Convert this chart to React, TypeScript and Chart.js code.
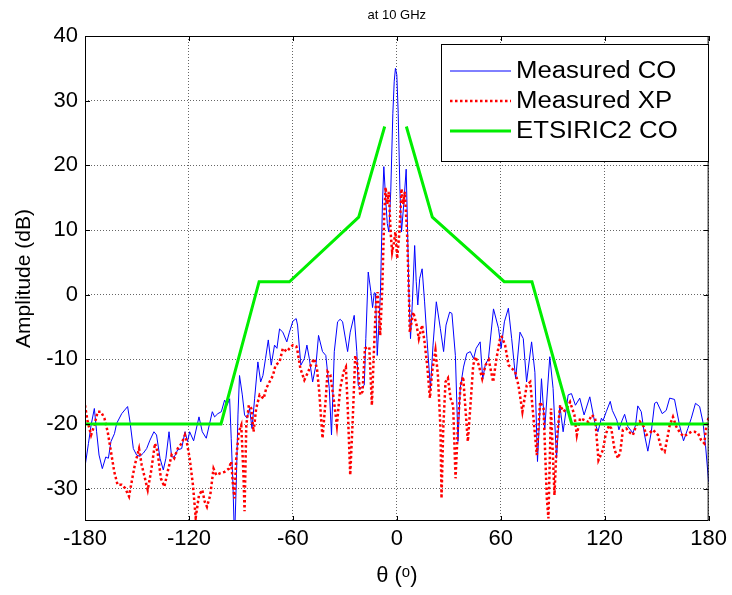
import { useEffect, useRef } from 'react';
import { Chart, registerables } from 'chart.js';
Chart.register(...registerables);

const seriesNames = ['Measured CO', 'Measured XP', 'ETSIRIC2 CO'];
const titleText = 'at 10 GHz';
const xTitle = 'θ (ᵒ)';
const yTitle = 'Amplitude (dB)';
const xTicks = [-180, -120, -60, 0, 60, 120, 180];
const yTicks = [-30, -20, -10, 0, 10, 20, 30, 40];

const coDeg = [-180, -178, -176.5, -174.6, -173.3, -171.9, -170, -168, -166.5, -165, -163, -161.7, -158.8, -155.4, -154, -152.1, -150.2, -148.3, -146.3, -144.4, -142.5, -140.2, -138.7, -136.7, -134.8, -133.3, -131.5, -130, -128.5, -126.5, -124.2, -122.3, -120.8, -119.6, -117.3, -114.2, -112.3, -110, -106.5, -105.2, -103.3, -101.3, -99.4, -98, -96.5, -95.6, -94.6, -93.7, -92.7, -91.7, -90.8, -89.2, -87.9, -86.5, -85, -83.6, -82.1, -80.2, -78.6, -77.3, -75.8, -74.2, -72.5, -70.6, -69.2, -67.7, -65.8, -63.5, -62, -60, -58.1, -57.3, -55.4, -53.4, -51.9, -50.5, -48.6, -46.7, -45.2, -42.9, -41, -39, -37.7, -36.1, -34.2, -32.7, -31.3, -28.4, -26.9, -24.6, -23.1, -22.3, -20.8, -18.8, -17.9, -16.5, -15, -14, -13, -12.3, -11.3, -10, -9.4, -8.3, -7.5, -6.5, -5.5, -4.6, -3.5, -2.3, -1.5, -0.8, 0, 0.8, 1.8, 2.7, 4, 5.4, 6.2, 6.9, 7.9, 9, 10.3, 11.2, 12.1, 13.2, 14.6, 16, 17.4, 19.4, 20.9, 22.8, 25.1, 27, 28.4, 30.5, 31.8, 33.8, 35.3, 36.6, 38.5, 40.4, 42.4, 44.3, 45.8, 48.1, 49.6, 51, 52.9, 55.8, 58.7, 60.2, 62.1, 64.4, 66.3, 68.6, 71.1, 73, 74.9, 77.8, 79.7, 81.2, 83.5, 85.4, 88.3, 90.2, 92.2, 94.1, 96, 98.9, 100.8, 103.1, 105.6, 108.1, 111.4, 114.2, 116.1, 118.1, 119, 120.9, 123.2, 124.4, 127, 128.2, 130.1, 131.5, 133.4, 136.3, 137.8, 139.1, 141.1, 143, 144.9, 146.9, 148.8, 150.1, 153.2, 155.5, 157.5, 160.3, 163.2, 165.5, 168, 170, 172.4, 174.8, 176.7, 178.2, 180];
const coDb = [-26.6, -23, -20.2, -17.6, -21.2, -24.8, -26.9, -25.1, -25.3, -22.7, -21.5, -19.9, -18.4, -17.3, -19.7, -23.8, -24.8, -25, -24.5, -23.8, -22.5, -21.2, -21.7, -25.3, -27.1, -25.3, -21.2, -25.1, -25.1, -24, -23.8, -21.2, -22.7, -21.2, -22.6, -18.9, -21.2, -22.2, -18.1, -18.9, -18.4, -18.1, -16.3, -17.1, -16.1, -22.2, -29.4, -38, -29.4, -18.6, -12.5, -15.5, -18.6, -19.1, -17.6, -20.7, -16.1, -10.4, -13.5, -12.5, -9.9, -7, -10.9, -7.8, -8.3, -5.3, -5.8, -7.3, -5.8, -4.1, -3.7, -4.7, -10.9, -9.9, -7.8, -9.9, -13.5, -10.9, -6.3, -8.8, -9.4, -14.5, -21.7, -8.8, -4.2, -3.8, -4.2, -8.8, -5.8, -3.2, -8.8, -14, -14.5, -14, -6.8, 3.5, 0.5, -2, 0.3, 0.2, -9.4, -3, 0.9, 14, 19.8, 15, 11, 9.7, 16, 28, 33, 35, 34, 28, 16, 9.7, 14, 19.4, 10, 1, -6.8, -1, 7.6, 2, -1.6, 2.5, 4, -1, -6.8, -14.5, -7.8, -1.1, -5.2, -8.8, -4.7, -2.7, -2.9, -9.4, -22.7, -14.5, -11.2, -9.1, -8.8, -9.9, -8.3, -7.3, -13, -10.9, -9.9, -2.2, -5.2, -8.3, -4.2, -2.1, -6.8, -13, -5.8, -6.8, -13.5, -7.3, -12, -25.8, -13, -20.7, -9.6, -14.5, -25.3, -17.1, -21.2, -15.5, -15.3, -17.1, -16, -18.6, -15.8, -19.7, -21.2, -19.1, -19.5, -18.1, -16.5, -17.9, -19.4, -20.9, -19.4, -18.5, -20.4, -21.4, -20.2, -17.2, -18.1, -21.7, -24.2, -21.2, -16.8, -16.6, -18.4, -17.9, -16, -16.2, -20.2, -22.6, -20.7, -19.1, -16.8, -17.3, -19.7, -23.3, -29];

const xpDeg = [-180, -178.5, -176.5, -174.6, -172.7, -170.8, -168.8, -166.9, -165, -163.1, -161.2, -158.8, -156.9, -154.6, -152.7, -151.2, -148.8, -147.3, -145.4, -143.8, -141.9, -139.6, -138.1, -136.2, -134.2, -132.3, -130, -128.5, -126.5, -124.2, -122.3, -121.3, -119.6, -117.7, -116.1, -114.2, -112.3, -110.9, -109.6, -107.7, -105.8, -104.2, -101.9, -99.4, -96.9, -95.6, -94.6, -93.7, -92.7, -91.2, -89.8, -88.5, -87.9, -86.9, -85.4, -84, -82.7, -81.2, -79.2, -76.9, -75.4, -73.5, -71.5, -70, -67.7, -65.8, -63.5, -61.9, -60, -58, -57.3, -55.7, -53.4, -51.1, -49.2, -47.7, -46.1, -44.8, -42.9, -41, -40, -38.4, -36.5, -34.6, -32.7, -30.7, -29.4, -28.4, -26.9, -25.5, -24, -22.7, -21.1, -19.8, -18.4, -15.9, -14.4, -13.4, -12.1, -11.1, -9.6, -8.4, -7.3, -6.5, -5.5, -4.6, -3.6, -2.7, -1.7, -0.8, 0.2, 1.5, 2.7, 3.7, 4.6, 5.9, 6.9, 7.5, 9.5, 11.4, 12.7, 14.6, 16, 17.5, 19.1, 20.4, 22.3, 23.7, 25.2, 25.8, 26.8, 28.1, 29.5, 31, 32.5, 33.9, 35.4, 36.8, 38.3, 39.6, 41, 42.5, 44.1, 45.4, 47.3, 49.3, 51.2, 53.1, 55.6, 57.5, 59.8, 60.6, 62.5, 64.5, 66.4, 68.3, 70.2, 72.5, 75, 77, 78.9, 80.8, 82.7, 84.7, 86.6, 87.5, 89, 91, 92.4, 94.3, 96.2, 98.1, 100, 102.5, 103.9, 105.8, 108.3, 110.6, 112.5, 114.5, 116.4, 119, 120.5, 122.5, 123.8, 125.7, 127.7, 129, 130.5, 132.5, 134, 136.3, 138.2, 140.2, 142.5, 144, 145.9, 147.8, 150.7, 152.7, 154.6, 156.5, 157.5, 159.4, 161.3, 163.6, 165.5, 167.1, 170, 171.9, 173.8, 175.7, 177.5, 178.6, 180];
const xpDb = [-17.1, -19.6, -21.7, -20.2, -18.1, -18.1, -19.1, -21.2, -24.3, -27.4, -29.4, -29.4, -29.9, -31.2, -28.4, -26.3, -23.8, -26.3, -28.4, -30.2, -27.4, -23, -24.3, -28.4, -29.7, -27.4, -24.8, -25.3, -23.8, -23, -21.7, -22.7, -25.3, -29.4, -34.5, -31, -30.2, -32, -32.8, -31, -26.9, -27.9, -27.6, -27.4, -26.9, -25.8, -29.4, -31.5, -25.3, -21.2, -20.2, -28, -33.5, -20.2, -17.1, -17.6, -21.2, -17.6, -15.5, -16.1, -14.5, -13.5, -12.5, -10.9, -10.4, -8.3, -8.8, -8.3, -7.8, -8, -8.8, -11.4, -13.2, -11.9, -10.6, -9.9, -11.4, -15, -22.2, -16, -11.9, -12.4, -16, -20.2, -14.5, -11.9, -11.2, -17.1, -27.9, -19.6, -9.4, -10.9, -15.5, -15, -8.3, -8.1, -17.1, -9.9, -1.6, 0.4, -6.3, 0.9, 12, 16.6, 14, 15.9, 9.7, 6.6, 8, 9.7, 5.6, 9.7, 16.4, 14, 15.9, 9.7, 0.9, -5.8, -2.7, -4.7, -6.8, -4.7, -7.3, -10.9, -16, -11.9, -8.6, -12.4, -20.7, -31.5, -20.7, -13.5, -12.9, -16, -17.1, -28.4, -19.6, -14, -12.7, -17.6, -22.7, -17.1, -10.9, -9.6, -10.9, -13, -10.9, -10.1, -13.5, -9.9, -6.5, -6.5, -7.8, -10.9, -11.4, -11.9, -14, -18.1, -14, -13.5, -19.1, -24.8, -16.6, -17.6, -31.5, -34.6, -17.6, -31, -22.2, -17.1, -18.1, -17.6, -16.6, -18.6, -21.7, -19.1, -19.4, -19.7, -18.6, -19.1, -25.6, -24, -21.7, -20.2, -20.7, -24, -25.3, -24.3, -20.9, -20.7, -21.2, -21.7, -20.2, -19.6, -20.4, -21.7, -21.4, -20.9, -21.7, -23.8, -24.3, -21.7, -20.2, -18.9, -20.4, -21.4, -21.9, -21.7, -21.2, -21.2, -21.4, -22.5, -23, -20.4, -19];

const etsiDeg = [-180, -101.5, -79.5, -62, -22, -7, 0, 5.5, 20.5, 62, 78, 101, 180];
const etsiDb: (number | null)[] = [-20, -20, 2, 2, 12, 26, null, 26, 12, 2, 2, -20, -20];

const FONT = "'Liberation Sans', Arial, sans-serif";

export default function App() {
  const ref = useRef<HTMLCanvasElement>(null);
  useEffect(() => {
    document.body.style.margin = '0';
    const toPts = (xs: number[], ys: (number | null)[]) => xs.map((x, i) => ({ x, y: ys[i] }));
    const colors = ['#0000ff', '#ff0000', '#00ee00'];

    const frame = {
      id: 'frame',
      afterDraw(chart: any) {
        const { ctx, chartArea: a, scales } = chart;
        ctx.save();
        ctx.strokeStyle = '#000';
        ctx.lineWidth = 1;
        ctx.setLineDash([]);
        ctx.strokeRect(a.left + 0.5, a.top + 0.5, a.right - a.left - 1, a.bottom - a.top - 1);
        const tl = 5;
        ctx.beginPath();
        xTicks.forEach((v) => {
          const x = Math.round(scales.x.getPixelForValue(v)) + 0.5;
          ctx.moveTo(x, a.bottom); ctx.lineTo(x, a.bottom - tl);
          ctx.moveTo(x, a.top); ctx.lineTo(x, a.top + tl);
        });
        yTicks.forEach((v) => {
          const y = Math.round(scales.y.getPixelForValue(v)) + 0.5;
          ctx.moveTo(a.left, y); ctx.lineTo(a.left + tl, y);
          ctx.moveTo(a.right, y); ctx.lineTo(a.right - tl, y);
        });
        ctx.stroke();
        ctx.fillStyle = '#000';
        ctx.font = `13px ${FONT}`;
        ctx.textAlign = 'center';
        ctx.textBaseline = 'middle';
        ctx.fillText(titleText, (a.left + a.right) / 2, 15);
        const bx = 441, by = 44, bw = 267, bh = 117;
        ctx.fillStyle = '#fff';
        ctx.fillRect(bx, by, bw, bh);
        ctx.strokeStyle = '#000';
        ctx.strokeRect(bx + 0.5, by + 0.5, bw, bh);
        const rows = [71, 101, 131];
        const widths = [1, 2.5, 3];
        seriesNames.forEach((name, i) => {
          ctx.save();
          ctx.strokeStyle = colors[i];
          ctx.lineWidth = widths[i];
          ctx.setLineDash(i === 1 ? [2.5, 2.5] : []);
          ctx.beginPath();
          ctx.moveTo(450, rows[i]);
          ctx.lineTo(511, rows[i]);
          ctx.stroke();
          ctx.restore();
          ctx.save();
          ctx.fillStyle = '#000';
          ctx.font = `23px ${FONT}`;
          ctx.textAlign = 'left';
          ctx.textBaseline = 'middle';
          ctx.translate(516, rows[i] + 1);
          ctx.scale(1.12, 1);
          ctx.fillText(name, 0, 0);
          ctx.restore();
        });
        ctx.restore();
      },
    };

    const chart = new Chart(ref.current as HTMLCanvasElement, {
      type: 'line',
      data: {
        datasets: [
          { label: seriesNames[0], data: toPts(coDeg, coDb) as any, borderColor: colors[0], borderWidth: 1, pointRadius: 0, tension: 0, order: 3 },
          { label: seriesNames[1], data: toPts(xpDeg, xpDb) as any, borderColor: colors[1], borderWidth: 2.5, borderDash: [2.5, 2.5], pointRadius: 0, tension: 0, order: 2 },
          { label: seriesNames[2], data: toPts(etsiDeg, etsiDb) as any, borderColor: colors[2], borderWidth: 3, pointRadius: 0, tension: 0, spanGaps: false, order: 1 },
        ],
      },
      options: {
        responsive: false,
        animation: false,
        layout: { padding: { top: 36, right: 21, left: 0, bottom: 0 } },
        plugins: { legend: { display: false }, title: { display: false }, tooltip: { enabled: false } },
        scales: {
          x: {
            type: 'linear',
            min: -180,
            max: 180,
            afterBuildTicks: (s: any) => { s.ticks = xTicks.map((v) => ({ value: v })); },
            afterFit: (s: any) => { s.height = 74; },
            ticks: { color: '#000', font: { family: FONT, size: 22 }, padding: 5, maxRotation: 0, autoSkip: false },
            grid: { color: 'rgba(0,0,0,0.6)', drawTicks: false, lineWidth: 1 },
            border: { display: false, dash: [1, 2] },
            title: { display: true, text: xTitle, color: '#000', font: { family: FONT, size: 22 }, padding: { top: 0, bottom: 6 } },
          },
          y: {
            type: 'linear',
            min: -35,
            max: 40,
            afterBuildTicks: (s: any) => { s.ticks = yTicks.map((v) => ({ value: v })); },
            afterFit: (s: any) => { s.width = 85; },
            ticks: { color: '#000', font: { family: FONT, size: 22 }, padding: 7, autoSkip: false },
            grid: { color: 'rgba(0,0,0,0.6)', drawTicks: false, lineWidth: 1 },
            border: { display: false, dash: [1, 2] },
            title: { display: true, text: yTitle, color: '#000', font: { family: FONT, size: 21 }, padding: { top: 12, bottom: 0 } },
          },
        },
      },
      plugins: [frame],
    });
    return () => chart.destroy();
  }, []);
  return (
    <div style={{ width: 732, height: 595, position: 'relative', background: '#fff' }}>
      <canvas ref={ref} width={732} height={595} style={{ display: 'block' }} />
    </div>
  );
}
